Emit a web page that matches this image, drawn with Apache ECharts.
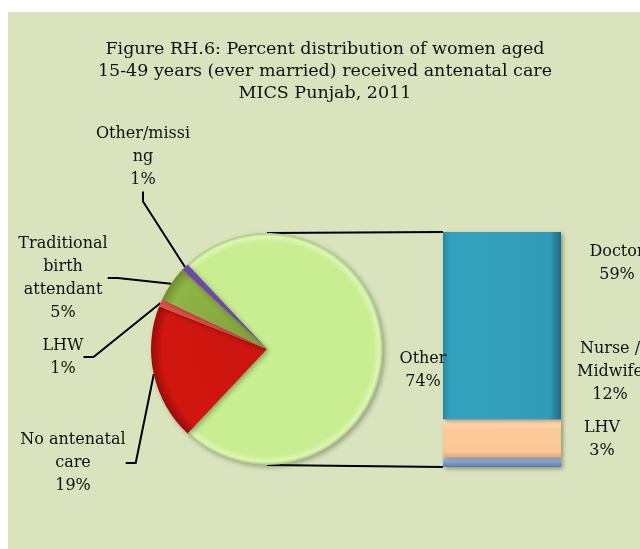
<!DOCTYPE html>
<html>
<head>
<meta charset="utf-8">
<style>
  html, body { margin: 0; padding: 0; background: #fff; }
  #chart { width: 640px; height: 549px; }
</style>
<script src="https://cdn.jsdelivr.net/npm/echarts@6/dist/echarts.min.js"></script>
</head>
<body>
<div id="chart"></div>
<script>
  // pie: big "Other" slice first, then the small ones going clockwise
  const pieNames = ['Other', 'No antenatal\ncare', 'LHW', 'Traditional\nbirth\nattendant', 'Other/missi\nng']
  const pieValues = [74, 19, 1, 5, 1]
  // breakdown of "Other" in the stacked bar (bottom to top)
  const barNames = ['LHV', 'Nurse /\nMidwife', 'Doctor']
  const barValues = [3, 12, 59]

  // layout
  const pieCenter = [267, 349]
  const pieRadius = 116
  const barBox = { left: 443, top: 232, width: 118, height: 235 }
  // label anchors (centre of label block) for pie labels
  const pieLabelPos = [[423, 370], [73, 463], [63, 357], [63, 278], [143, 157]]
  // bar label offsets from the right edge of each segment
  const barLabelOffset = [[36, -23], [44, -67], [51, -62]]

  // pie shading is done in page pixels so every slice shares one bevel
  function pieShade(stops) {
    return new echarts.graphic.RadialGradient(pieCenter[0], pieCenter[1], pieRadius, stops, true)
  }
  const pieColors = [
    pieShade([
      { offset: 0, color: '#c9ef93' },
      { offset: 0.92, color: '#c8ee91' },
      { offset: 0.97, color: '#def6b6' },
      { offset: 1, color: '#a8c878' }
    ]),
    pieShade([
      { offset: 0, color: '#cc140f' },
      { offset: 0.9, color: '#d0170f' },
      { offset: 1, color: '#9a0c08' }
    ]),
    '#e0504a',
    pieShade([
      { offset: 0, color: '#7f9f3a' },
      { offset: 0.9, color: '#90b445' },
      { offset: 1, color: '#6e8c30' }
    ]),
    '#6b4aa6'
  ]
  const barColors = [
    new echarts.graphic.LinearGradient(0, 0, 0, 1, [
      { offset: 0, color: '#b7cdef' },
      { offset: 0.4, color: '#8ba8d8' },
      { offset: 1, color: '#5c7aa8' }
    ]),
    new echarts.graphic.LinearGradient(0, 0, 0, 1, [
      { offset: 0, color: '#fde0bd' },
      { offset: 0.25, color: '#fccb9b' },
      { offset: 0.85, color: '#fbc794' },
      { offset: 1, color: '#e2a875' }
    ]),
    new echarts.graphic.LinearGradient(0, 0, 1, 0, [
      { offset: 0, color: '#2a88a3' },
      { offset: 0.06, color: '#33a1bd' },
      { offset: 0.9, color: '#319cb8' },
      { offset: 1, color: '#216b84' }
    ])
  ]

  const font = 'DejaVu Serif'
  const myChart = echarts.init(document.getElementById('chart'))

  const pieData = pieNames.map((n, i) => ({
    name: n,
    value: pieValues[i],
    itemStyle: { color: pieColors[i] },
    labelLine: { show: i !== 0 }
  }))

  const barSeries = barNames.map((n, i) => ({
    type: 'bar',
    name: n,
    stack: 'other',
    barWidth: '100%',
    data: [barValues[i]],
    itemStyle: {
      color: barColors[i],
      shadowColor: 'rgba(0,0,0,0.35)',
      shadowBlur: 4,
      shadowOffsetX: 2,
      shadowOffsetY: 2
    },
    label: {
      show: true,
      position: 'right',
      align: 'center',
      offset: barLabelOffset[i],
      formatter: p => p.seriesName + '\n' + p.value + '%',
      color: '#111',
      fontFamily: font,
      fontSize: 16,
      lineHeight: 23
    }
  }))

  const option = {
    animation: false,
    backgroundColor: '#fff',
    graphic: [
      {
        type: 'rect',
        z: -10,
        shape: { x: 8, y: 12, width: 640, height: 549 },
        style: { fill: '#d9e4be' }
      },
      {
        type: 'line',
        z: 1,
        shape: { x1: pieCenter[0], y1: pieCenter[1] - pieRadius, x2: barBox.left, y2: barBox.top },
        style: { stroke: '#000', lineWidth: 2 }
      },
      {
        type: 'line',
        z: 1,
        shape: { x1: pieCenter[0], y1: pieCenter[1] + pieRadius, x2: barBox.left, y2: barBox.top + barBox.height },
        style: { stroke: '#000', lineWidth: 2 }
      }
    ],
    title: {
      text: 'Figure RH.6: Percent distribution of women aged\n15-49 years (ever married) received antenatal care\nMICS Punjab, 2011',
      left: 320,
      top: 33,
      textAlign: 'center',
      textStyle: {
        fontFamily: font,
        fontWeight: 'normal',
        fontSize: 17.5,
        lineHeight: 22,
        color: '#111',
        align: 'center'
      }
    },
    grid: {
      left: barBox.left,
      top: barBox.top,
      width: barBox.width,
      height: barBox.height
    },
    xAxis: { type: 'category', data: ['Other'], show: false },
    yAxis: { type: 'value', min: 0, max: barValues.reduce((a, b) => a + b, 0), show: false },
    series: [
      {
        type: 'pie',
        z: 3,
        center: pieCenter,
        radius: pieRadius,
        startAngle: 133.2,
        clockwise: true,
        data: pieData,
        itemStyle: {
          shadowColor: 'rgba(0,0,0,0.3)',
          shadowBlur: 5,
          shadowOffsetX: 2,
          shadowOffsetY: 2
        },
        label: {
          show: true,
          formatter: p => p.name + '\n' + p.value + '%',
          color: '#111',
          fontFamily: font,
          fontSize: 16,
          lineHeight: 23,
          align: 'center'
        },
        labelLine: {
          show: true,
          length: 10,
          length2: 10,
          lineStyle: { color: '#000', width: 2 }
        },
        labelLayout: p => ({
          x: pieLabelPos[p.dataIndex][0],
          y: pieLabelPos[p.dataIndex][1],
          align: 'center',
          verticalAlign: 'middle'
        })
      },
      ...barSeries
    ]
  }

  myChart.setOption(option)
</script>
</body>
</html>
